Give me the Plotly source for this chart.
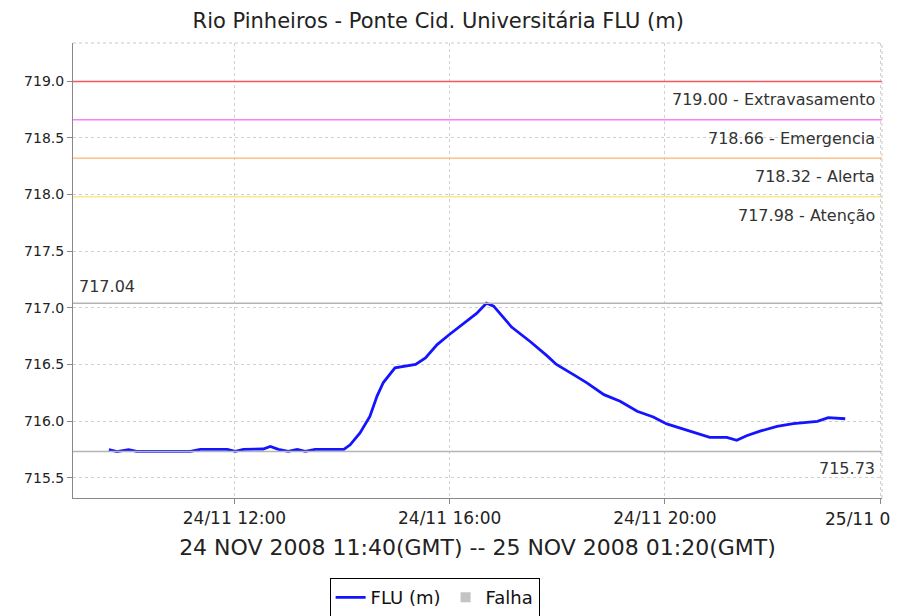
import plotly.graph_objects as go

# ---- data ----
times = [
    "2008-11-24 09:40", "2008-11-24 09:49", "2008-11-24 10:02", "2008-11-24 10:11",
    "2008-11-24 11:11", "2008-11-24 11:22", "2008-11-24 11:52", "2008-11-24 12:01",
    "2008-11-24 12:10", "2008-11-24 12:32", "2008-11-24 12:40", "2008-11-24 12:49",
    "2008-11-24 13:00", "2008-11-24 13:10", "2008-11-24 13:19", "2008-11-24 13:30",
    "2008-11-24 14:02", "2008-11-24 14:09", "2008-11-24 14:20", "2008-11-24 14:31",
    "2008-11-24 14:39", "2008-11-24 14:46", "2008-11-24 14:59", "2008-11-24 15:08",
    "2008-11-24 15:22", "2008-11-24 15:33", "2008-11-24 15:46", "2008-11-24 15:59",
    "2008-11-24 16:15", "2008-11-24 16:30", "2008-11-24 16:41", "2008-11-24 16:49",
    "2008-11-24 17:09", "2008-11-24 17:30", "2008-11-24 17:48", "2008-11-24 17:59",
    "2008-11-24 18:18", "2008-11-24 18:33", "2008-11-24 18:52", "2008-11-24 19:10",
    "2008-11-24 19:29", "2008-11-24 19:47", "2008-11-24 20:02", "2008-11-24 20:21",
    "2008-11-24 20:36", "2008-11-24 20:50", "2008-11-24 21:09", "2008-11-24 21:20",
    "2008-11-24 21:31", "2008-11-24 21:46", "2008-11-24 22:05", "2008-11-24 22:23",
    "2008-11-24 22:50", "2008-11-24 23:02", "2008-11-24 23:21",
]
levels = [
    715.747, 715.730, 715.747, 715.732,
    715.732, 715.750, 715.750, 715.732,
    715.750, 715.753, 715.775, 715.750,
    715.732, 715.750, 715.732, 715.750,
    715.750, 715.790, 715.895, 716.040,
    716.220, 716.340, 716.470, 716.480,
    716.500, 716.557, 716.675, 716.760,
    716.860, 716.950, 717.040, 717.015,
    716.830, 716.700, 716.580, 716.500,
    716.410, 716.337, 716.233, 716.174,
    716.086, 716.036, 715.974, 715.930,
    715.895, 715.856, 715.856, 715.830,
    715.870, 715.910, 715.953, 715.977,
    715.997, 716.030, 716.020,
]

threshold_values = [719.00, 718.66, 718.32, 717.98]
threshold_names = ["Extravasamento", "Emergencia", "Alerta", "Atenção"]
threshold_colors = ["#f05a5a", "#ff7cff", "#ffc08a", "#ffe88a"]

max_value = 717.04
min_value = 715.73

tick_vals = ["2008-11-24 12:00", "2008-11-24 16:00", "2008-11-24 20:00", "2008-11-25 00:00"]
tick_text = ["24/11 12:00", "24/11 16:00", "24/11 20:00", ""]
# last tick label is shown clipped by the right edge in the reference
edge_tick_val = "2008-11-25 00:00"
edge_tick_text = "25/11 0"

title_text = "Rio Pinheiros - Ponte Cid. Universitária FLU (m)"
xaxis_title = "24 NOV 2008 11:40(GMT) -- 25 NOV 2008 01:20(GMT)"

FONT = "DejaVu Sans"

fig = go.Figure()

fig.add_trace(go.Scatter(
    x=times, y=levels, mode="lines", name="FLU (m)",
    line=dict(color="#1414ff", width=2.8),
))
fig.add_trace(go.Scatter(
    x=[None], y=[None], mode="markers", name="Falha",
    marker=dict(symbol="square", color="#c4c4c4", size=10),
))

shapes = []
annotations = []
for v, n, c in zip(threshold_values, threshold_names, threshold_colors):
    shapes.append(dict(type="line", xref="paper", x0=0, x1=1, yref="y", y0=v, y1=v,
                       line=dict(color=c, width=1.5)))
    annotations.append(dict(xref="paper", x=1, xanchor="right", xshift=-5,
                            yref="y", y=v, yanchor="top", yshift=-7,
                            text=f"{v:.2f} - {n}", showarrow=False,
                            font=dict(family=FONT, size=16, color="#333333")))

for v in (max_value, min_value):
    shapes.append(dict(type="line", xref="paper", x0=0, x1=1, yref="y", y0=v, y1=v,
                       line=dict(color="#b4b4b4", width=1.5)))
annotations.append(dict(xref="paper", x=0, xanchor="left", xshift=4,
                        yref="y", y=max_value, yanchor="bottom", yshift=5,
                        text=f"{max_value:.2f}", showarrow=False,
                        font=dict(family=FONT, size=16, color="#333333")))
annotations.append(dict(xref="paper", x=1, xanchor="right", xshift=-5,
                        yref="y", y=min_value, yanchor="top", yshift=-5,
                        text=f"{min_value:.2f}", showarrow=False,
                        font=dict(family=FONT, size=16, color="#333333")))

# clipped last tick label
annotations.append(dict(xref="x", x=edge_tick_val, xanchor="left", xshift=-57,
                        yref="paper", y=0, yanchor="top", yshift=-9,
                        text=edge_tick_text, showarrow=False,
                        font=dict(family=FONT, size=17, color="#222222")))

# dashed top / right border
shapes.append(dict(type="line", xref="paper", yref="paper", x0=0, x1=1, y0=1, y1=1,
                   line=dict(color="#c8c8c8", width=1, dash="3px,3px")))
shapes.append(dict(type="line", xref="paper", yref="paper", x0=1, x1=1, y0=0, y1=1,
                   line=dict(color="#c8c8c8", width=1, dash="3px,3px")))

fig.update_layout(
    template="none",
    width=898, height=616,
    margin=dict(l=73, r=16, t=43, b=118, autoexpand=False),
    paper_bgcolor="white", plot_bgcolor="white",
    font=dict(family=FONT, color="#333333"),
    title=dict(text=title_text, x=0.488, xanchor="center", y=0.967, yanchor="middle",
               font=dict(family=FONT, size=21, color="#222222")),
    shapes=shapes, annotations=annotations,
    showlegend=True,
    legend=dict(orientation="h", x=0.447, xanchor="center", y=-0.176, yanchor="top",
                bordercolor="#000000", borderwidth=1, bgcolor="white",
                font=dict(family=FONT, size=18, color="#111111"),
                itemwidth=30, tracegroupgap=0),
)

fig.update_xaxes(
    type="date",
    range=["2008-11-24 09:00", "2008-11-25 00:02"],
    tickvals=tick_vals, ticktext=tick_text,
    tickfont=dict(family=FONT, size=17, color="#222222"),
    ticks="outside", ticklen=5, tickcolor="#888888",
    showline=True, linecolor="#888888", linewidth=1,
    showgrid=True, gridcolor="#d0d0d0", griddash="3px,3px", gridwidth=1,
    zeroline=False, automargin=False,
    title=dict(text=xaxis_title, font=dict(family=FONT, size=22, color="#222222"), standoff=12),
)
fig.update_yaxes(
    range=[715.32, 719.339],
    tickvals=[715.5, 716.0, 716.5, 717.0, 717.5, 718.0, 718.5, 719.0],
    tickformat=".1f",
    tickfont=dict(family=FONT, size=14, color="#222222"),
    ticks="outside", ticklen=5, tickcolor="#888888",
    showline=True, linecolor="#888888", linewidth=1,
    showgrid=True, gridcolor="#d0d0d0", griddash="3px,3px", gridwidth=1,
    zeroline=False, automargin=False,
)

fig.write_html("out.html", config={"displayModeBar": False},
               post_script="document.body.style.margin='0';")
